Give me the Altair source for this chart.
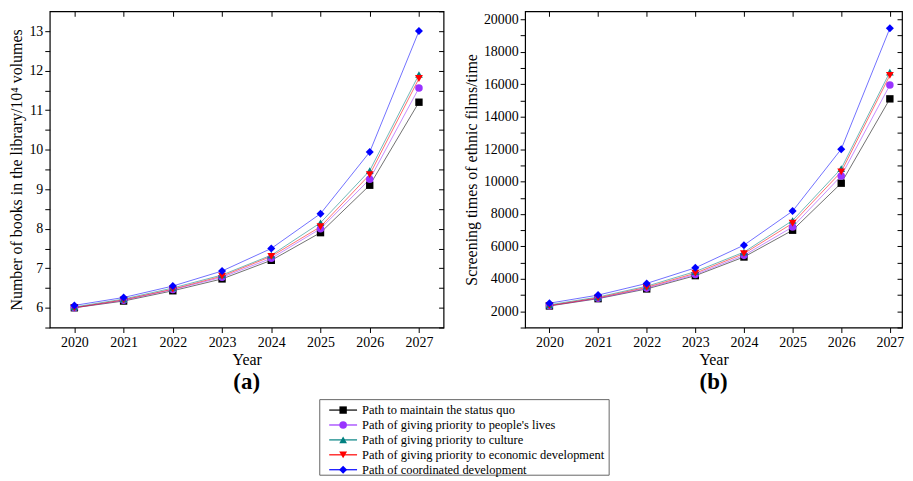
import altair as alt
import pandas as pd

years = [2020, 2021, 2022, 2023, 2024, 2025, 2026, 2027]
series_names = [
    "Path to maintain the status quo",
    "Path of giving priority to people's lives",
    "Path of giving priority to culture",
    "Path of giving priority to economic development",
    "Path of coordinated development",
]
colors = ["#000000", "#9933FF", "#008080", "#FF0000", "#0000FF"]
shapes = ["square", "circle", "triangle-up", "triangle-down", "diamond"]
marker_sizes = [55, 65, 70, 70, 100]

# (a) Number of books in the library / 10^4 volumes
books_status_quo = [6.00, 6.17, 6.43, 6.73, 7.20, 7.90, 9.10, 11.20]
books_people = [6.00, 6.19, 6.46, 6.77, 7.25, 8.00, 9.25, 11.56]
books_culture = [6.02, 6.22, 6.50, 6.83, 7.33, 8.15, 9.47, 11.90]
books_economic = [6.00, 6.20, 6.47, 6.80, 7.30, 8.05, 9.37, 11.80]
books_coordinated = [6.06, 6.26, 6.55, 6.93, 7.50, 8.38, 9.94, 13.00]

# (b) Screening times of ethnic films / time
films_status_quo = [2330, 2780, 3380, 4200, 5350, 7000, 9900, 15100]
films_people = [2350, 2800, 3430, 4270, 5450, 7200, 10350, 15950]
films_culture = [2400, 2880, 3550, 4450, 5650, 7600, 10800, 16750]
films_economic = [2350, 2830, 3480, 4350, 5560, 7430, 10600, 16550]
films_coordinated = [2500, 3000, 3720, 4680, 6080, 8180, 12000, 19450]

books = [books_status_quo, books_people, books_culture, books_economic, books_coordinated]
films = [films_status_quo, films_people, films_culture, films_economic, films_coordinated]


def long_frame(series_values):
    rows = []
    for name, vals in zip(series_names, series_values):
        for y, v in zip(years, vals):
            rows.append({"series": name, "year": y, "value": v})
    return pd.DataFrame(rows)


df_a = long_frame(books)
df_b = long_frame(films)

FONT = "Liberation Serif"
color_scale = alt.Scale(domain=series_names, range=colors)
shape_scale = alt.Scale(domain=series_names, range=shapes)
size_scale = alt.Scale(domain=series_names, range=marker_sizes)

tick_style = dict(grid=False, domain=False, tickColor="black", tickWidth=1, tickSize=5)
text_style = dict(labelFont=FONT, labelFontSize=14, labelColor="black",
                  titleFont=FONT, titleFontSize=16, titleFontWeight="normal", titleColor="black")


def panel(df, xdomain, ydomain, yvals, yvals_inner, label_expr, ytitle, sub, W, H):
    x_scale = alt.Scale(domain=xdomain, nice=False)
    y_scale = alt.Scale(domain=ydomain, nice=False, zero=False)
    lines = alt.Chart(df).mark_line(strokeWidth=0.8, opacity=0.7).encode(
        x=alt.X("year:Q", scale=x_scale,
                axis=alt.Axis(values=years, format="d", title="Year", labelPadding=3,
                              titlePadding=2, **tick_style, **text_style)),
        y=alt.Y("value:Q", scale=y_scale,
                axis=alt.Axis(values=yvals, labelExpr=label_expr, title=ytitle,
                              labelPadding=2, titlePadding=4, **tick_style, **text_style)),
        color=alt.Color("series:N", scale=color_scale, legend=None),
        order="year:Q",
    )
    pts = alt.Chart(df).mark_point(filled=True, opacity=1).encode(
        x=alt.X("year:Q", scale=x_scale,
                axis=alt.Axis(orient="bottom", offset=-H, values=years, labels=False,
                              title=None, **tick_style)),
        y=alt.Y("value:Q", scale=y_scale,
                axis=alt.Axis(orient="left", offset=-W, values=yvals_inner, labels=False,
                              title=None, **tick_style)),
        color=alt.Color("series:N", scale=color_scale, legend=None),
        shape=alt.Shape("series:N", scale=shape_scale, legend=None),
        size=alt.Size("series:N", scale=size_scale, legend=None),
    )
    return alt.layer(lines, pts).resolve_axis(x="independent", y="independent").properties(
        width=W, height=H,
        title=alt.TitleParams(sub, orient="bottom", frame="group", font=FONT, fontSize=23,
                              fontWeight="bold", color="black", offset=4),
        view=alt.ViewBackground(stroke="black", strokeWidth=1.2),
    )


yvals_a = [5.5 + 0.5 * i for i in range(16)]
yvals_a_inner = [5.5 + 0.5 * i for i in range(17)]
yvals_b = [1000 * i for i in range(1, 21)]

panel_a = panel(df_a, [2019.5, 2027.5], [5.5, 13.5], yvals_a, yvals_a_inner,
                "datum.value % 1 == 0 ? datum.value : ''",
                "Number of books in the library/10\u2074 volumes", "(a)", 396, 318)
panel_b = panel(df_b, [2019.5, 2027.25], [1000, 20500], yvals_b, yvals_b,
                "datum.value % 2000 == 0 ? format(datum.value, 'd') : ''",
                "Screening times of ethnic films/time", "(b)", 379, 318)

legend_df = pd.DataFrame({"series": series_names})
leg_y = alt.Y("series:N", sort=series_names, axis=None,
              scale=alt.Scale(type="point", range=[11, 71], padding=0))
leg_rule = alt.Chart(legend_df).mark_rule(strokeWidth=1.2).encode(
    x=alt.value(10), x2=alt.value(38), y=leg_y,
    color=alt.Color("series:N", scale=color_scale, legend=None))
leg_pts = alt.Chart(legend_df).mark_point(filled=True, opacity=1).encode(
    x=alt.value(24), y=leg_y,
    color=alt.Color("series:N", scale=color_scale, legend=None),
    shape=alt.Shape("series:N", scale=shape_scale, legend=None),
    size=alt.Size("series:N", scale=size_scale, legend=None))
leg_text = alt.Chart(legend_df).mark_text(align="left", baseline="middle", font=FONT,
                                          fontSize=12.5, color="black").encode(
    x=alt.value(43), y=leg_y, text="series:N")
legend = alt.layer(leg_rule, leg_pts, leg_text).properties(
    width=291, height=76, view=alt.ViewBackground(stroke="#666666", strokeWidth=1))

spacer = alt.Chart(legend_df).mark_point(opacity=0).encode(
    x=alt.value(0), y=alt.value(0)).properties(
    width=269, height=76, view=alt.ViewBackground(stroke="transparent"))

top = alt.hconcat(panel_a, panel_b, spacing=17)
bottom = alt.hconcat(spacer, legend, spacing=0)

chart = alt.vconcat(top, bottom, spacing=0).properties(
    padding={"left": 0, "top": 0, "right": 0, "bottom": 0},
    background="white",
).configure(font=FONT).configure_axis(labelFont=FONT, titleFont=FONT)

chart.save("out.html", embed_options={"renderer": "svg", "actions": False})
